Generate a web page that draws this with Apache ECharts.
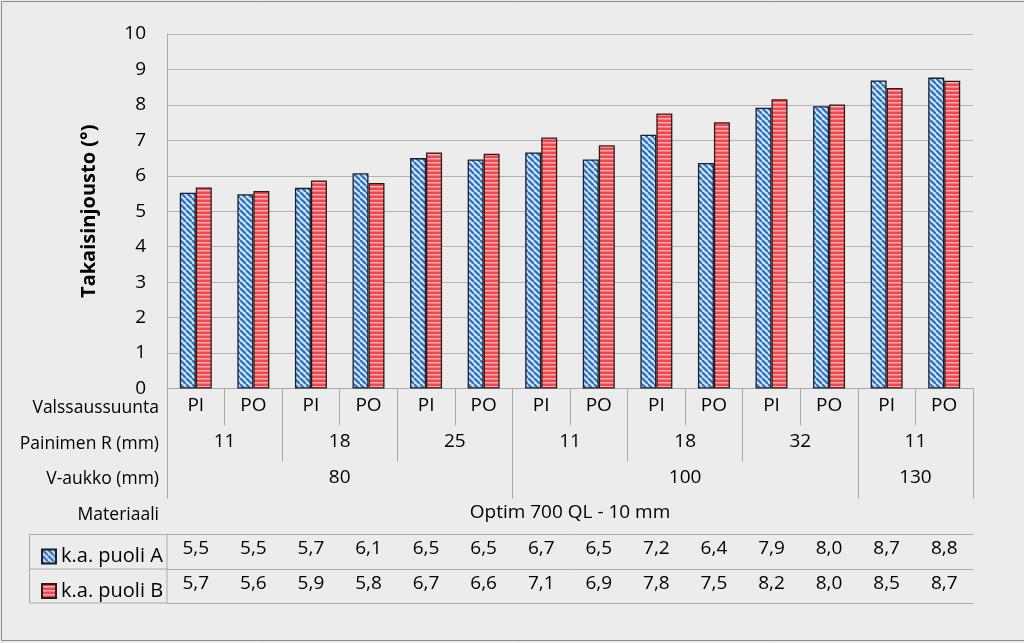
<!DOCTYPE html>
<html>
<head>
<meta charset="utf-8">
<script src="https://cdn.jsdelivr.net/npm/echarts@6/dist/echarts.min.js"></script>
<style>
  html, body { margin: 0; padding: 0; background: #ececec; }
  #chart { width: 1024px; height: 643px; }
</style>
</head>
<body>
<div id="chart"></div>
<script>
  // luokat (kolme tasoa + materiaali)
  var valssaus = ['PI', 'PO', 'PI', 'PO', 'PI', 'PO', 'PI', 'PO', 'PI', 'PO', 'PI', 'PO', 'PI', 'PO']
  var painimenR = ['11', '18', '25', '11', '18', '32', '11']
  var painimenRSpan = [2, 2, 2, 2, 2, 2, 2]
  var vAukko = ['80', '100', '130']
  var vAukkoSpan = [6, 6, 2]
  var materiaali = 'Optim 700 QL - 10 mm'
  var rowNames = ['Valssaussuunta', 'Painimen R (mm)', 'V-aukko (mm)', 'Materiaali']

  // sarjat
  var puoliA = [5.52, 5.48, 5.66, 6.07, 6.5, 6.46, 6.66, 6.46, 7.16, 6.36, 7.92, 7.96, 8.69, 8.77]
  var puoliB = [5.67, 5.57, 5.87, 5.8, 6.66, 6.62, 7.08, 6.86, 7.76, 7.51, 8.16, 8.01, 8.48, 8.68]
  var yTicks = [0, 10, 1]

  var FONT = 'Open Sans'
  var GRAY = '#a9a9a9'

  function fmt (v) {
    return (Math.round(v * 10) / 10).toFixed(1).replace('.', ',')
  }

  // ryhmätaso: puolikkaan luokan pisteet 0..2n, nimi ryhmän keskelle
  function groupLevel (names, spans) {
    var data = [], ticks = [0], pos = 0
    for (var i = 0; i <= valssaus.length * 2; i++) data.push('')
    names.forEach(function (name, k) {
      data[pos + spans[k]] = name
      pos += spans[k] * 2
      ticks.push(pos)
    })
    return { data: data, ticks: ticks }
  }
  var levelS = groupLevel(valssaus, valssaus.map(function () { return 1 }))
  var levelR = groupLevel(painimenR, painimenRSpan)
  var levelV = groupLevel(vAukko, vAukkoSpan)

  // kuviot
  function stripeA () {
    var c = document.createElement('canvas')
    c.width = 6; c.height = 6
    var g = c.getContext('2d')
    g.fillStyle = '#d6e6f7'
    g.fillRect(0, 0, 6, 6)
    g.strokeStyle = '#2f74c0'
    g.lineWidth = 2.3
    for (var o = -6; o <= 6; o += 6) {
      g.beginPath(); g.moveTo(o, 0); g.lineTo(o + 6, 6); g.stroke()
    }
    return c
  }
  function stripeB () {
    var c = document.createElement('canvas')
    c.width = 4; c.height = 4
    var g = c.getContext('2d')
    g.fillStyle = '#f0454d'
    g.fillRect(0, 0, 4, 4)
    g.fillStyle = '#ffb0b0'
    g.fillRect(0, 2, 4, 1.5)
    return c
  }

  var chart = echarts.init(document.getElementById('chart'))
  window.addEventListener('resize', function () { chart.resize() })

  var lbl = { fontFamily: FONT, fontSize: 19, color: '#000' }
  var tickLine = { color: GRAY, width: 1 }

  var tableBottom = 603
  var axisY = 388.5

  function levelAxis (level, tickLen, margin) {
    return {
      type: 'category', data: level.data, boundaryGap: false, position: 'bottom',
      axisLine: { show: false },
      axisTick: { interval: function (idx) { return level.ticks.indexOf(idx) >= 0 }, length: tickLen, lineStyle: tickLine },
      axisLabel: Object.assign({ interval: function (idx, val) { return val !== '' }, margin: margin }, lbl)
    }
  }

  chart.setOption({
    backgroundColor: '#ececec',
    textStyle: { fontFamily: FONT },
    animation: false,
    grid: { left: 167, right: 51, top: 34, bottom: 643 - axisY, outerBoundsMode: 'none', containLabel: false },
    legend: {
      orient: 'vertical',
      left: 36,
      top: 541.5,
      itemWidth: 14,
      itemHeight: 14,
      itemGap: 14.5,
      itemTextGap: 3,
      icon: 'rect',
      textStyle: { fontFamily: FONT, fontSize: 20, lineHeight: 20, color: '#000' },
      data: ['k.a. puoli A', 'k.a. puoli B']
    },
    yAxis: {
      type: 'value',
      min: yTicks[0], max: yTicks[1], interval: yTicks[2],
      name: 'Takaisinjousto (°)',
      nameLocation: 'middle',
      nameGap: 68,
      nameTextStyle: { fontFamily: FONT, fontSize: 20, fontWeight: 'bold', color: '#000' },
      axisLine: { show: true, lineStyle: tickLine },
      axisTick: { show: false },
      axisLabel: Object.assign({ margin: 21 }, lbl),
      splitLine: { lineStyle: { color: '#b3b3b3', width: 1 } }
    },
    xAxis: [
      {
        type: 'category', data: valssaus, position: 'bottom',
        axisLine: { lineStyle: tickLine },
        axisTick: { show: false },
        axisLabel: { show: false }
      },
      levelAxis(levelS, 37, 8),
      levelAxis(levelR, 73, 44),
      levelAxis(levelV, 110, 80),
      {
        type: 'category', data: [materiaali], position: 'bottom',
        axisLine: { show: false },
        axisTick: { interval: 0, length: tableBottom - axisY, lineStyle: tickLine },
        axisLabel: Object.assign({ interval: 0, margin: 115 }, lbl)
      },
      {
        type: 'category', data: puoliA.map(fmt), offset: 534.5 - axisY, position: 'bottom',
        axisLine: { lineStyle: tickLine },
        axisTick: { interval: 0, length: 34.5, lineStyle: tickLine },
        axisLabel: Object.assign({ interval: 0, margin: 5 }, lbl)
      },
      {
        type: 'category', data: puoliB.map(fmt), offset: 569 - axisY, position: 'bottom',
        axisLine: { lineStyle: tickLine },
        axisTick: { interval: 0, length: 34.5, lineStyle: tickLine },
        axisLabel: Object.assign({ interval: 0, margin: 5 }, lbl)
      },
      {
        type: 'category', data: valssaus, offset: tableBottom - axisY, position: 'bottom',
        axisLine: { lineStyle: tickLine },
        axisTick: { show: false },
        axisLabel: { show: false }
      }
    ],
    graphic: [
      {
        type: 'rect', silent: true,
        shape: { x: 1.5, y: 1.5, width: 1040, height: 639 },
        style: { fill: null, stroke: '#8a8a8a', lineWidth: 1 }
      },
      {
        type: 'rect', silent: true,
        shape: { x: 29.5, y: 534.5, width: 137.5, height: tableBottom - 534.5 },
        style: { fill: null, stroke: GRAY, lineWidth: 1 }
      },
      {
        type: 'line', silent: true,
        shape: { x1: 29.5, y1: 569, x2: 167, y2: 569 },
        style: { stroke: GRAY, lineWidth: 1 }
      }
    ].concat(rowNames.map(function (t, k) {
      return {
        type: 'text', silent: true,
        style: { x: 159, y: 408 + k * 35.7, text: t, align: 'right', verticalAlign: 'middle', font: '17.5px "' + FONT + '"', fill: '#000' }
      }
    })),
    series: [
      {
        name: 'k.a. puoli A', type: 'bar', data: puoliA,
        barWidth: 16, barGap: '0%',
        itemStyle: { color: { image: stripeA(), repeat: 'repeat' }, borderColor: '#1b1f2b', borderWidth: 1.3 }
      },
      {
        name: 'k.a. puoli B', type: 'bar', data: puoliB,
        barWidth: 16, barGap: '0%',
        itemStyle: { color: { image: stripeB(), repeat: 'repeat' }, borderColor: '#2b1b1b', borderWidth: 1.3 }
      }
    ]
  })
</script>
</body>
</html>
